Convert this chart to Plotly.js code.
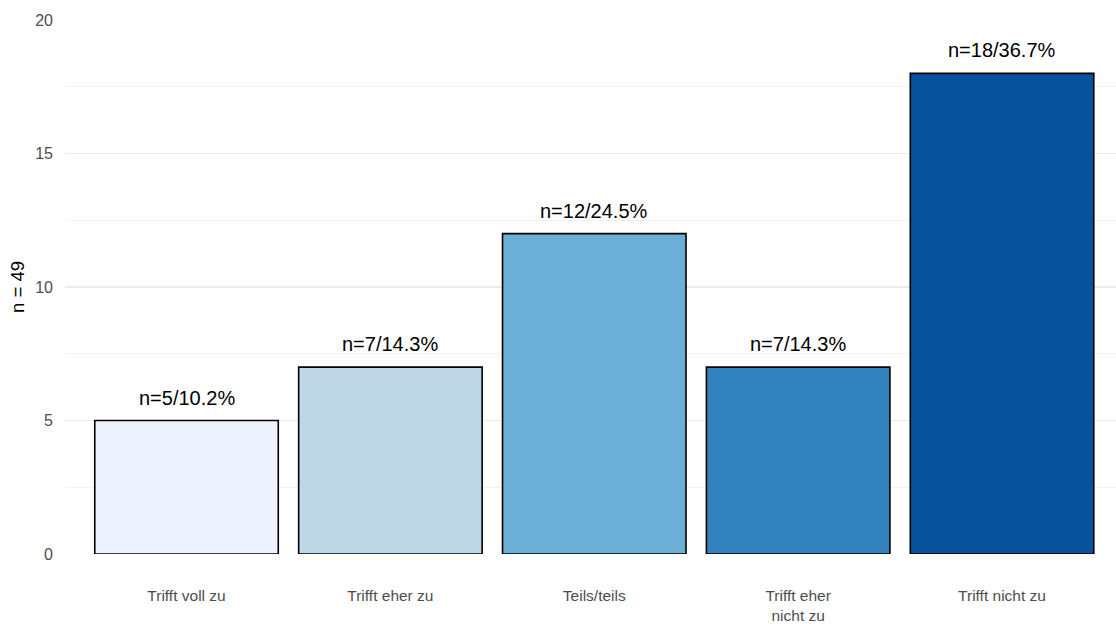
<!DOCTYPE html>
<html>
<head>
<meta charset="utf-8">
<script src="https://cdn.plot.ly/plotly-3.0.1.min.js"></script>
<style>html,body{margin:0;padding:0;background:#fff;}#chart{width:1116px;height:624px;}</style>
</head>
<body>
<div id="chart"></div>
<script>
const categories = ["Trifft voll zu", "Trifft eher zu", "Teils/teils", "Trifft eher<br>nicht zu", "Trifft nicht zu"];
const counts = [5, 7, 12, 7, 18];
const labels = ["n=5/10.2%", "n=7/14.3%", "n=12/24.5%", "n=7/14.3%", "n=18/36.7%"];
const colors = ["#EFF3FF", "#BDD7E7", "#6BAED6", "#3182BD", "#08519C"];
const yTicks = [0, 5, 10, 15, 20];

const trace = {
  type: "bar",
  x: categories,
  y: counts,
  width: 0.9,
  marker: {color: colors, line: {color: "#000000", width: 1.6}},
  hoverinfo: "none"
};

const annotations = categories.map((c, i) => ({
  x: c, y: counts[i], xref: "x", yref: "y",
  text: labels[i], showarrow: false, yanchor: "bottom", yshift: 10,
  font: {family: "Liberation Sans, Arial, sans-serif", size: 20, color: "#000000"}
}));

const layout = {
  width: 1116, height: 624,
  margin: {l: 65, r: 0, t: 20, b: 70},
  paper_bgcolor: "#ffffff", plot_bgcolor: "#ffffff",
  showlegend: false,
  font: {family: "Liberation Sans, Arial, sans-serif"},
  xaxis: {
    type: "category",
    range: [-0.596, 4.559],
    showgrid: false, zeroline: false, showline: false, ticks: "",
    ticklabelstandoff: 30,
    tickfont: {size: 15.5, color: "#4D4D4D"}
  },
  yaxis: {
    range: [0, 20],
    tickvals: yTicks, ticktext: yTicks.map(String),
    showgrid: true, gridcolor: "#EBEBEB", gridwidth: 1.4,
    zeroline: false, showline: false, ticks: "",
    ticklabelstandoff: 11,
    tickfont: {size: 16, color: "#4D4D4D"},
    minor: {tickvals: [2.5, 7.5, 12.5, 17.5], showgrid: true, gridcolor: "#F2F2F2", gridwidth: 1},
    title: {text: "n = 49", font: {size: 18.5, color: "#000000"}, standoff: 5}
  },
  annotations: annotations
};

Plotly.newPlot("chart", [trace], layout, {displayModeBar: false, staticPlot: true});
</script>
</body>
</html>
